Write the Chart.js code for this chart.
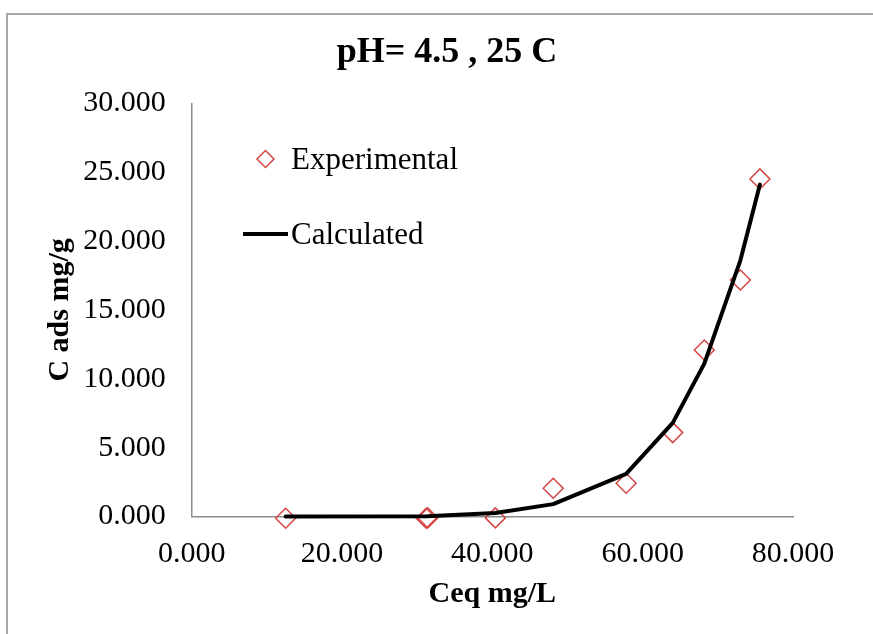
<!DOCTYPE html>
<html>
<head>
<meta charset="utf-8">
<title>pH= 4.5 , 25 C</title>
<script src="https://cdn.jsdelivr.net/npm/chart.js@4.4.1/dist/chart.umd.min.js"></script>
<style>
    html, body { margin: 0; padding: 0; background: #fff; overflow: hidden; }
    #wrap { position: relative; width: 873px; height: 634px; }
    #frame {
        position: absolute; left: 6px; top: 13px; width: 900px; height: 660px;
        border: 2px solid #a6a6a6; pointer-events: none;
    }
    canvas { position: absolute; left: 0; top: 0; }
</style>
</head>
<body>
<div id="wrap">
    <canvas id="chart" width="873" height="634"></canvas>
    <div id="frame"></div>
</div>
<script>
// Experimental points (Ceq mg/L, C ads mg/g)
const expX = [12.5, 31.2, 31.4, 40.4, 48.1, 57.8, 64.0, 68.2, 73.0, 75.6];
const expY = [-0.13, -0.13, -0.1, -0.1, 2.05, 2.41, 6.09, 12.09, 17.17, 24.51];

// Calculated curve
const calcX = [12.5, 31.3, 40.4, 48.1, 57.8, 64.0, 68.2, 73.0, 75.6];
const calcY = [0.0, 0.02, 0.25, 0.9, 3.1, 6.8, 11.1, 18.6, 24.1];

const xTicks = [0, 20, 40, 60, 80];
const yTicks = [0, 5, 10, 15, 20, 25, 30];

const seriesNames = ['Experimental', 'Calculated'];

const toPoints = (xs, ys) => xs.map((x, i) => ({ x: x, y: ys[i] }));

Chart.defaults.font.family = "'Liberation Serif', 'Times New Roman', serif";
Chart.defaults.color = '#000';

// Legend drawn inside the plot area, like the Excel original
const insideLegend = {
    id: 'insideLegend',
    afterDraw(chart) {
        const ctx = chart.ctx;
        ctx.save();
        ctx.font = "31px 'Liberation Serif', serif";
        ctx.fillStyle = '#000';
        ctx.textBaseline = 'alphabetic';
        ctx.textAlign = 'left';

        // Experimental marker
        ctx.strokeStyle = '#d64545';
        ctx.lineWidth = 1.5;
        ctx.beginPath();
        ctx.moveTo(265.5, 150.5);
        ctx.lineTo(274, 159);
        ctx.lineTo(265.5, 167.5);
        ctx.lineTo(257, 159);
        ctx.closePath();
        ctx.stroke();
        ctx.fillText(seriesNames[0], 291, 169);

        // Calculated line
        ctx.strokeStyle = '#000';
        ctx.lineWidth = 4;
        ctx.beginPath();
        ctx.moveTo(243, 234);
        ctx.lineTo(288, 234);
        ctx.stroke();
        ctx.fillText(seriesNames[1], 291, 244);
        ctx.restore();
    }
};

new Chart(document.getElementById('chart'), {
    type: 'scatter',
    data: {
        datasets: [
            {
                label: seriesNames[0],
                data: toPoints(expX, expY),
                pointStyle: 'rectRot',
                pointRadius: 10,
                pointBorderWidth: 1.5,
                borderColor: '#d64545',
                backgroundColor: 'rgba(0,0,0,0)',
                showLine: false,
                clip: false,
                order: 2
            },
            {
                label: seriesNames[1],
                type: 'line',
                data: toPoints(calcX, calcY),
                borderColor: '#000',
                borderWidth: 4,
                borderJoinStyle: 'round',
                borderCapStyle: 'round',
                pointRadius: 0,
                tension: 0,
                fill: false,
                clip: false,
                order: 1
            }
        ]
    },
    options: {
        responsive: false,
        animation: false,
        // negative right padding + empty right axis puts the title centre where Excel had it
        layout: { padding: { left: 0, right: -21, top: 0, bottom: 0 } },
        plugins: {
            legend: { display: false },
            tooltip: { enabled: false },
            title: {
                display: true,
                text: 'pH= 4.5 , 25 C',
                color: '#000',
                font: { size: 36, weight: 'bold' },
                padding: { top: 31, bottom: 29.1 }
            }
        },
        scales: {
            x: {
                type: 'linear',
                min: 0,
                max: 80,
                afterBuildTicks: s => { s.ticks = xTicks.map(v => ({ value: v })); },
                afterFit: s => { s.height = 117.5; },
                grid: { display: false, drawTicks: false },
                border: { display: true, color: '#8c8c8c', width: 1.5 },
                ticks: {
                    padding: 20,
                    maxRotation: 0,
                    font: { size: 30 },
                    callback: v => v.toFixed(3)
                },
                title: {
                    display: true,
                    text: 'Ceq mg/L',
                    font: { size: 30, weight: 'bold' },
                    padding: { top: 0, bottom: 22 }
                }
            },
            y: {
                type: 'linear',
                min: 0,
                max: 30,
                afterBuildTicks: s => { s.ticks = yTicks.map(v => ({ value: v })); },
                afterFit: s => { s.width = 191.7; },
                grid: { display: false, drawTicks: false },
                border: { display: true, color: '#8c8c8c', width: 1.5 },
                ticks: {
                    padding: 26,
                    font: { size: 30 },
                    callback: v => v.toFixed(3)
                },
                title: {
                    display: true,
                    text: 'C ads mg/g',
                    font: { size: 30, weight: 'bold' },
                    padding: { top: 42, bottom: 0 }
                }
            },
            spacer: {
                type: 'linear',
                position: 'right',
                min: 0,
                max: 30,
                afterFit: s => { s.width = 101; },
                grid: { display: false, drawTicks: false },
                border: { display: false },
                ticks: { display: false }
            }
        }
    },
    plugins: [insideLegend]
});
</script>
</body>
</html>
